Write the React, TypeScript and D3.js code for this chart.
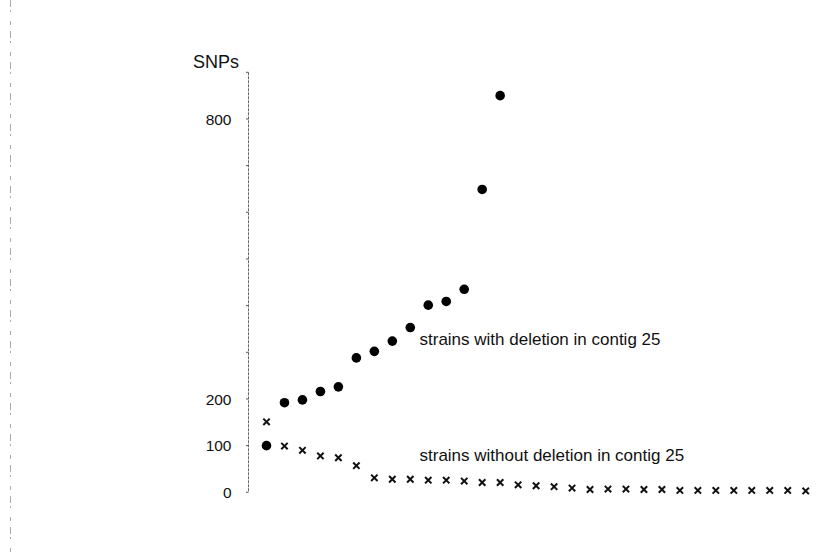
import React from "react";
import * as d3 from "d3";

// Strain index (x) and SNP counts
const withDeletion: number[] = [100, 192, 198, 216, 226, 288, 302, 324, 353, 401, 409, 435, 649, 850];
const withoutDeletion: number[] = [
  151, 99, 90, 78, 74, 57, 31, 28, 28, 26, 26, 24, 21, 21, 16, 14, 12, 9, 6, 7, 7, 6, 6, 4, 4, 4, 4, 4, 4, 4, 3,
];
const tickValues: number[] = [0, 100, 200, 300, 400, 500, 600, 700, 800, 900];
const tickLabels: number[] = [0, 100, 200, 800];
const yLabel = "SNPs";
const labelWith = "strains with deletion in contig 25";
const labelWithout = "strains without deletion in contig 25";

const W = 819;
const H = 554;
const FONT = "'Liberation Sans', Arial, Helvetica, sans-serif";

export default function App() {
  const x = d3.scaleLinear().domain([0, 30]).range([266.5, 805.7]);
  const y = d3.scaleLinear().domain([0, 900]).range([492.3, 72.3]);
  const axisX = 248.5;
  const cs = 3.2;

  return (
    <svg
      width={W}
      height={H}
      style={{ position: "absolute", left: 0, top: 0, background: "#fff" }}
      fontFamily={FONT}
    >
      {/* faint scan border on the left */}
      <line x1={10.5} x2={10.5} y1={0} y2={H} stroke="#aaa" strokeWidth={1} strokeDasharray="7,3,2,9,4,6" />

      {/* y axis */}
      <line x1={axisX} x2={axisX} y1={y(900)} y2={y(0)} stroke="#666" strokeWidth={1} strokeDasharray="3,1" />
      {tickValues.map((t) => (
        <line key={t} x1={axisX - 2.5} x2={axisX} y1={y(t)} y2={y(t)} stroke="#555" strokeWidth={1} />
      ))}
      {tickLabels.map((t) => (
        <text key={t} x={231.5} y={y(t)} dy="0.36em" textAnchor="end" fontSize={15.5} fill="#111">
          {t}
        </text>
      ))}
      <text x={193} y={67.5} fontSize={18} fill="#111">
        {yLabel}
      </text>

      {/* crosses: strains without deletion */}
      {withoutDeletion.map((v, i) => {
        const cx = x(i);
        const cy = y(v);
        return (
          <path
            key={"x" + i}
            d={`M${cx - cs},${cy - cs}L${cx + cs},${cy + cs}M${cx - cs},${cy + cs}L${cx + cs},${cy - cs}`}
            stroke="#111"
            strokeWidth={2}
            fill="none"
          />
        );
      })}

      {/* circles: strains with deletion */}
      {withDeletion.map((v, i) => (
        <circle key={"c" + i} cx={x(i)} cy={y(v)} r={4.8} fill="#000" />
      ))}

      <text x={419.5} y={345} fontSize={17} fill="#111">
        {labelWith}
      </text>
      <text x={419.5} y={461} fontSize={17} fill="#111">
        {labelWithout}
      </text>
    </svg>
  );
}
